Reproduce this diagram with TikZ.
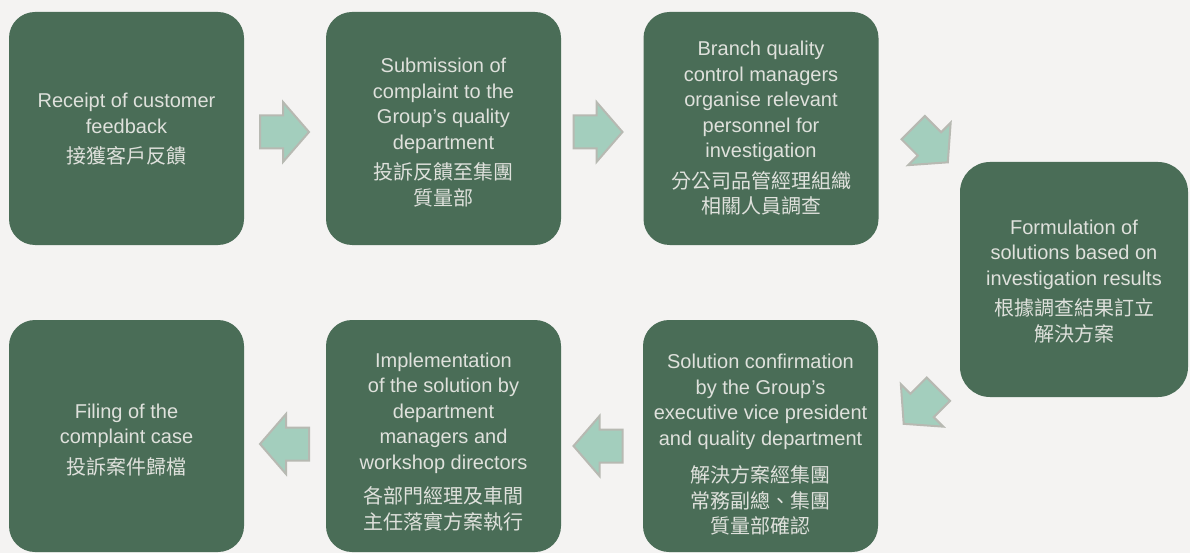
\documentclass[tikz,border=0pt]{standalone}
\usepackage{fontspec}
\setmainfont{Liberation Sans}
\newfontfamily\cjkf{Noto Sans CJK TC}
\definecolor{boxgreen}{HTML}{4A6D57}
\definecolor{arrfill}{HTML}{A3CEBD}
\definecolor{arrline}{HTML}{B7B9B2}
\definecolor{bgcol}{HTML}{F4F3F2}
\definecolor{txtcol}{HTML}{DFE1DC}
\begin{document}
\begin{tikzpicture}[x=1pt,y=-1pt,
  stepbox/.style={fill=boxgreen, rounded corners=26pt, minimum width=235pt, minimum height=233pt, inner sep=0pt},
  steptext/.style={inner sep=0pt, align=center, text=txtcol, font=\fontsize{20}{25.5}\selectfont},
  barrow/.style={fill=arrfill, draw=arrline, line width=2pt, line join=miter}]
\fill[bgcol] (0,0) rectangle (1190,553);
\useasboundingbox (0,0) rectangle (1190,553);
\newcommand\blockarrow[3]{%
  \draw[barrow, shift={(#1,#2)}, rotate=#3]
    (-24.5,-16.5) -- (-1.5,-16.5) -- (-1.5,-30) -- (24.5,0) -- (-1.5,30) -- (-1.5,16.5) -- (-24.5,16.5) -- cycle;}

\node[stepbox] (b1) at (126.5,128.5) {};
\node[stepbox] (b2) at (443.5,128.5) {};
\node[stepbox] (b3) at (761,128.5) {};
\node[stepbox, minimum width=228pt, minimum height=235pt, rounded corners=30pt] (b5) at (1074,279.5) {};
\node[stepbox, minimum height=232pt] (b6) at (760.5,436) {};
\node[stepbox, minimum height=232pt] (b7) at (443.5,436) {};
\node[stepbox, minimum height=232pt] (b8) at (126.5,436) {};

\node[steptext] (t1) at ([yshift=-1pt]b1.center) {Receipt of customer\\feedback\\[5pt]\cjkf 接獲客戶反饋};
\node[steptext] (t2) at ([yshift=-4pt]b2.center) {Submission of\\complaint to the\\Group’s quality\\department\\[5pt]\cjkf 投訴反饋至集團\\\cjkf 質量部};
\node[steptext] (t3) at (b3.center) {Branch quality\\control managers\\organise relevant\\personnel for\\investigation\\[5pt]\cjkf 分公司品管經理組織\\\cjkf 相關人員調查};
\node[steptext] (t5) at ([yshift=-2pt]b5.center) {Formulation of\\solutions based on\\investigation results\\[5pt]\cjkf 根據調查結果訂立\\\cjkf 解決方案};
\node[steptext] (t6) at ([yshift=-9pt]b6.center) {Solution confirmation\\by the Group’s\\executive vice president\\and quality department\\[12pt]\cjkf 解決方案經集團\\\cjkf 常務副總、集團\\\cjkf 質量部確認};
\node[steptext] (t7) at ([yshift=-6pt]b7.center) {Implementation\\of the solution by\\department\\managers and\\workshop directors\\[9pt]\cjkf 各部門經理及車間\\\cjkf 主任落實方案執行};
\node[steptext] (t8) at ([yshift=-4pt]b8.center) {Filing of the\\complaint case\\[5pt]\cjkf 投訴案件歸檔};

\blockarrow{284.5}{132}{0}
\blockarrow{598}{132}{0}
\blockarrow{930.5}{145}{-45}
\blockarrow{921}{406.5}{-135}
\blockarrow{598}{446}{180}
\blockarrow{284.5}{444}{180}
\end{tikzpicture}
\end{document}
